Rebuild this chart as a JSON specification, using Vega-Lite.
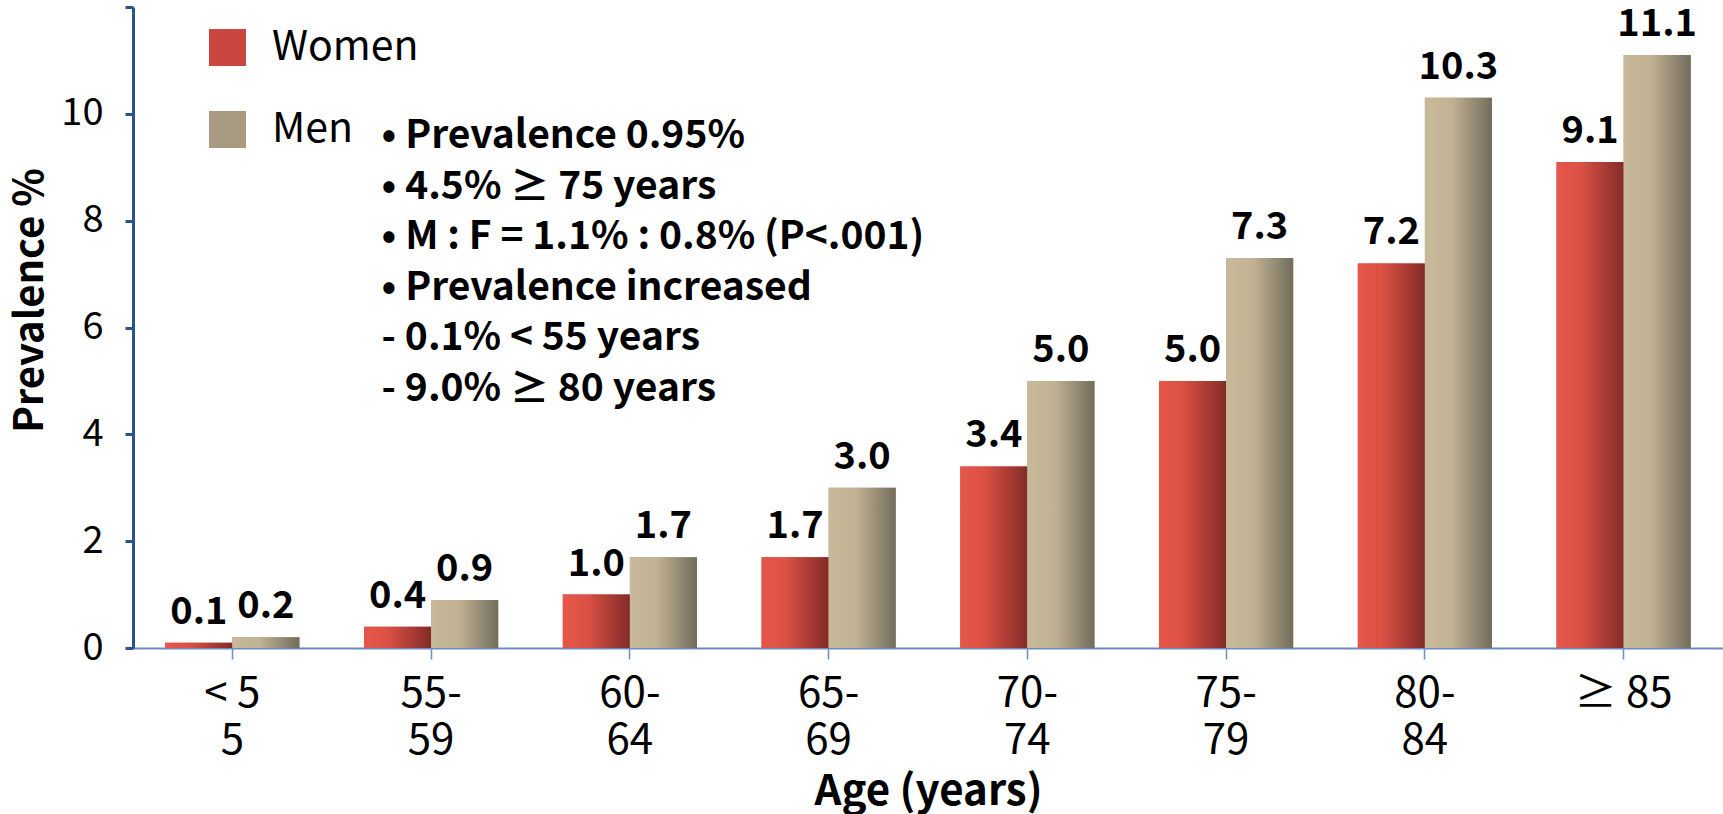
{
  "$schema": "https://vega.github.io/schema/vega-lite/v6.json",
  "width": 1590,
  "height": 641,
  "autosize": {"type": "none"},
  "padding": {"left": 133, "top": 7, "right": 0, "bottom": 166},
  "background": "white",
  "config": {"font": "Noto Sans CJK KR", "view": {"stroke": null}},
  "data": {
    "values": [
      {"age": "< 55", "sex": "Women", "value": 0.1},
      {"age": "< 55", "sex": "Men", "value": 0.2},
      {"age": "55-59", "sex": "Women", "value": 0.4},
      {"age": "55-59", "sex": "Men", "value": 0.9},
      {"age": "60-64", "sex": "Women", "value": 1.0},
      {"age": "60-64", "sex": "Men", "value": 1.7},
      {"age": "65-69", "sex": "Women", "value": 1.7},
      {"age": "65-69", "sex": "Men", "value": 3.0},
      {"age": "70-74", "sex": "Women", "value": 3.4},
      {"age": "70-74", "sex": "Men", "value": 5.0},
      {"age": "75-79", "sex": "Women", "value": 5.0},
      {"age": "75-79", "sex": "Men", "value": 7.3},
      {"age": "80-84", "sex": "Women", "value": 7.2},
      {"age": "80-84", "sex": "Men", "value": 10.3},
      {"age": "≥ 85", "sex": "Women", "value": 9.1},
      {"age": "≥ 85", "sex": "Men", "value": 11.1}
    ]
  },
  "encoding": {
    "x": {
      "field": "age",
      "type": "nominal",
      "sort": ["< 55", "55-59", "60-64", "65-69", "70-74", "75-79", "80-84", "≥ 85"],
      "scale": {"paddingInner": 0.325, "paddingOuter": 0.1625},
      "axis": {
        "title": "Age (years)",
        "titleFontSize": 42,
        "titleFontWeight": "bold",
        "titleColor": "black",
        "titleBaseline": "alphabetic",
        "titleY": 156,
        "labelAngle": 0,
        "labelFontSize": 42,
        "labelColor": "black",
        "labelLineHeight": 47,
        "labelBaseline": "alphabetic",
        "labelPadding": 47,
        "labelExpr": "datum.value == '< 55' ? ['< 5', '5'] : datum.value == '≥ 85' ? '≥ 85' : [slice(datum.value, 0, 3), slice(datum.value, 3)]",
        "tickSize": 11,
        "tickColor": "#6b8cbf",
        "tickWidth": 1.5,
        "domainColor": "#6b8cbf",
        "domainWidth": 2,
        "grid": false
      }
    },
    "y": {
      "field": "value",
      "type": "quantitative",
      "scale": {"domain": [0, 12], "nice": false},
      "axis": {
        "title": "Prevalence %",
        "titleFontSize": 40,
        "titleFontWeight": "bold",
        "titleColor": "black",
        "titleAngle": -90,
        "titleAlign": "center",
        "titleBaseline": "middle",
        "titleX": -103,
        "titleY": 293,
        "values": [0, 2, 4, 6, 8, 10, 12],
        "labelExpr": "datum.value == 12 ? '' : datum.label",
        "labelFontSize": 38,
        "labelColor": "black",
        "labelPadding": 22,
        "tickSize": 8,
        "tickWidth": 3,
        "tickColor": "#2a5190",
        "domainColor": "#2a5190",
        "domainWidth": 3,
        "grid": false
      }
    },
    "xOffset": {"field": "sex", "type": "nominal", "sort": ["Women", "Men"], "scale": {"paddingInner": 0}}
  },
  "layer": [
    {
      "mark": {"type": "bar"},
      "encoding": {
        "color": {
          "field": "sex",
          "type": "nominal",
          "scale": {"domain": ["Women", "Men"], "range": ["#c9473e", "#a89a80"]},
          "legend": {
            "title": null,
            "orient": "none",
            "legendX": 74,
            "legendY": 20,
            "padding": 0,
            "symbolType": "square",
            "symbolSize": 1369,
            "labelFontSize": 41,
            "labelColor": "black",
            "labelOffset": 24,
            "rowPadding": 40
          }
        }
      }
    },
    {
      "transform": [{"filter": "datum.sex === 'Women'"}],
      "mark": {"type": "bar", "color": {"gradient": "linear", "x1": 0, "x2": 1, "y1": 0, "y2": 0, "stops": [{"offset": 0, "color": "#e6564b"}, {"offset": 0.35, "color": "#dc5145"}, {"offset": 1, "color": "#822b28"}]}}
    },
    {
      "transform": [{"filter": "datum.sex === 'Men'"}],
      "mark": {"type": "bar", "color": {"gradient": "linear", "x1": 0, "x2": 1, "y1": 0, "y2": 0, "stops": [{"offset": 0, "color": "#c9b99b"}, {"offset": 0.4, "color": "#c2b294"}, {"offset": 1, "color": "#726c5c"}]}}
    },
    {
      "mark": {"type": "text", "fontWeight": "bold", "fontSize": 38, "baseline": "alphabetic", "dy": -19, "color": "black"},
      "encoding": {
        "text": {"field": "value", "type": "quantitative", "format": ".1f"}
      }
    },
    {
      "transform": [{"filter": "datum.age === '55-59' && datum.sex === 'Women'"}],
      "mark": {
        "type": "text",
        "align": "left",
        "baseline": "alphabetic",
        "fontWeight": "bold",
        "fontSize": 39,
        "lineHeight": 50.6,
        "lineBreak": "\n",
        "dx": -16,
        "color": "black",
        "text": "• Prevalence 0.95%\n• 4.5% ≥ 75 years\n• M : F = 1.1% : 0.8% (P<.001)\n• Prevalence increased\n\u00a0\u00a0\u00a0- 0.1% <  55 years\n\u00a0\u00a0\u00a0- 9.0% ≥ 80 years"
      },
      "encoding": {
        "y": {"datum": 9.36}
      }
    }
  ]
}
